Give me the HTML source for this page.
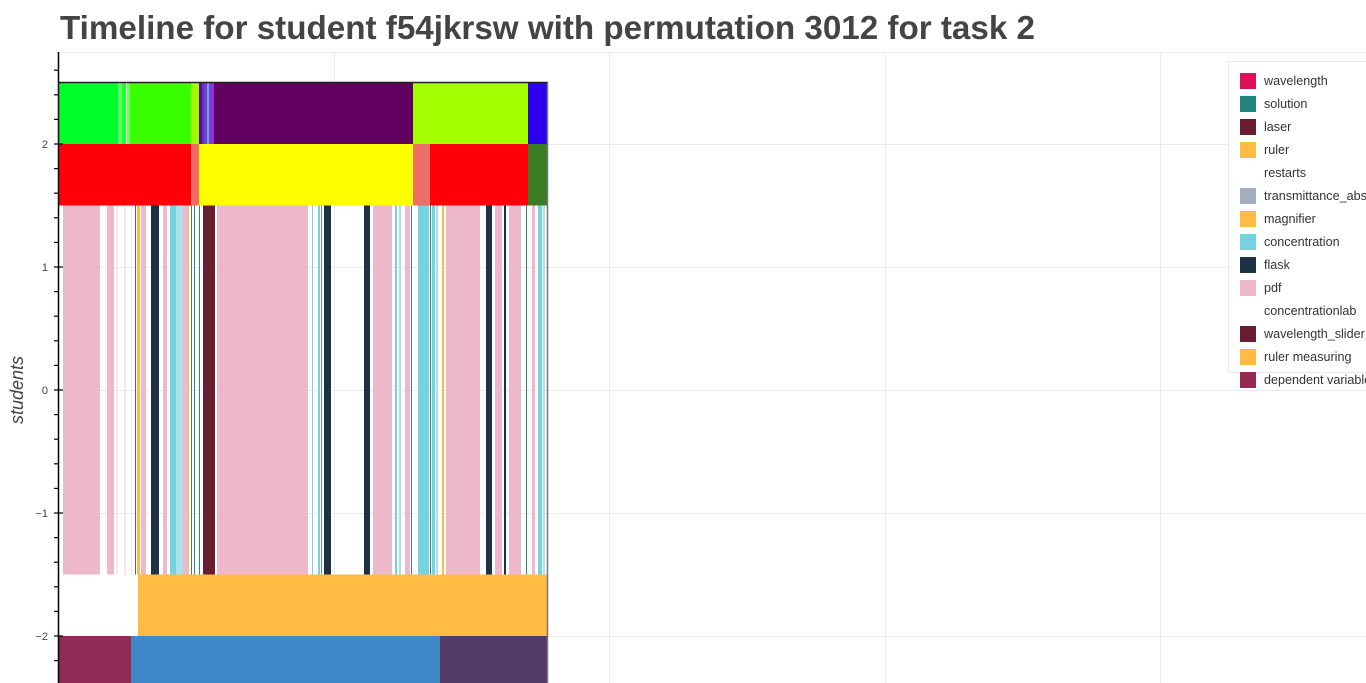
<!DOCTYPE html>
<html><head><meta charset="utf-8">
<style>
body{margin:0;background:#fff;font-family:"Liberation Sans",sans-serif;}
#wrap{position:relative;width:1366px;height:683px;overflow:hidden;}
</style></head>
<body>
<div id="wrap">
<svg id="chart" width="1366" height="683">
<text x="60" y="39" font-size="33.2" font-weight="bold" fill="#444">Timeline for student f54jkrsw with permutation 3012 for task 2</text>
<text transform="translate(23,390) rotate(-90)" text-anchor="middle" font-size="18" font-style="italic" fill="#444">students</text>
<g id="grid"></g>
<g id="marks"></g>
<g id="axis"></g>
<g id="legend"></g>
</svg>
</div>
<script>
const topSegs=[[0,60,"#00ff2a"],[60,64,"#5dff6a"],[64,68,"#20ff30"],[69,72,"#6aff5a"],[72,133,"#3aff00"],[133,141,"#a0ff00"],[141,144,"#6a00c0"],[144,146,"#4a4a90"],[146,149,"#8a30e0"],[149,151,"#40c0d0"],[151,156,"#9030e0"],[156,355,"#620060"],[355,470,"#a4ff00"],[470,489,"#2e00f0"]];
const secondSegs=[[0,133,"#ff0008"],[133,141,"#ee6a66"],[141,355,"#ffff00"],[355,372,"#ec7069"],[372,470,"#ff0008"],[470,489,"#3a7d22"]];
const midSegs=[[5,42,"#eeb8cb"],[49,56,"#eeb8cb"],[58,60,"#fbe6ee"],[66,68,"#fbe6ee"],[73,74,"#fbe6ee"],[77,78,"#556070"],[79,82,"#ffbb44"],[83,88,"#eeb8cb"],[93,101,"#1e3246"],[105,109,"#eeb8cb"],[112,118,"#75d2df"],[118,125,"#a8e2ea"],[125,130,"#eeb8cb"],[130,131,"#ffbb44"],[133,134,"#2a8a80"],[136,137,"#2a8a80"],[141,142,"#2a8a80"],[145,157,"#6a1c30"],[159,250,"#eeb8cb"],[254,255,"#75d2df"],[260,262,"#75d2df"],[263,264,"#888"],[266,273,"#1e3246"],[306,312,"#1e3246"],[315,334,"#eeb8cb"],[337,339,"#75d2df"],[341,343,"#a8e2ea"],[347,352,"#eeb8cb"],[353,354,"#2a8a80"],[360,371,"#75d2df"],[372,373,"#2a8a80"],[374,377,"#75d2df"],[378,380,"#a8e2ea"],[384,386,"#ffbb44"],[388,422,"#eeb8cb"],[428,434,"#1e3246"],[437,444,"#eeb8cb"],[446,448,"#1e3246"],[451,463,"#eeb8cb"],[468,469,"#2a8a80"],[474,477,"#eeb8cb"],[480,484,"#75d2df"],[485,487,"#a8e2ea"]];
const rulerSegs=[[80,489,"#ffbb44"]];
const bottomSegs=[[0,73,"#8e2c55"],[73,382,"#4088c8"],[382,489,"#523b66"]];
const bands=[[2.5,2,topSegs],[2,1.5,secondSegs],[1.5,-1.5,midSegs],[-1.5,-2,rulerSegs],[-2,-2.5,bottomSegs]];
const yTicks=[2,1,0,-1,-2];
const yTickLabels=["2","1","0","\u22121","\u22122"];
const legendNames=["wavelength","solution","laser","ruler","restarts","transmittance_absorbance","magnifier","concentration","flask","pdf","concentrationlab","wavelength_slider","ruler measuring","dependent variable"];
const legendColors=["#dc1158","#20847c","#6a1c30","#ffbb44",null,"#a2aebb","#ffbb44","#75d2df","#1e3246","#eeb8cb",null,"#6a1c30","#ffbb44","#962a52"];

const NS="http://www.w3.org/2000/svg";
const X0=58, Y2=144, PX=123;
const xs=t=>X0+t;
const ys=v=>Y2+(2-v)*PX;
function mk(tag,attrs,parent){const e=document.createElementNS(NS,tag);for(const k in attrs)e.setAttribute(k,attrs[k]);parent.appendChild(e);return e;}
const grid=document.getElementById('grid'),marks=document.getElementById('marks'),axis=document.getElementById('axis'),leg=document.getElementById('legend');
[334,609,885,1160].forEach(x=>{const l=mk('line',{x1:x+0.5,x2:x+0.5,y1:52,y2:683,stroke:'#ebebeb','stroke-width':1},grid);

});
yTicks.forEach(v=>{const l=mk('line',{x1:58,x2:1366,y1:ys(v)+0.5,y2:ys(v)+0.5,stroke:'#ebebeb','stroke-width':1},grid);

});
mk('line',{x1:58,x2:1366,y1:52.5,y2:52.5,stroke:'#ebebeb'},grid);
bands.forEach(b=>{b[2].forEach(s=>{const r=mk('rect',{x:xs(s[0]),y:ys(b[0]),width:s[1]-s[0],height:ys(b[1])-ys(b[0]),fill:s[2]},marks);

});});
mk('line',{x1:58,x2:548,y1:ys(2.5),y2:ys(2.5),stroke:'#222','stroke-width':1.5},marks);
mk('line',{x1:547.5,x2:547.5,y1:ys(2.5),y2:683,stroke:'#777','stroke-width':1.5},marks);
mk('line',{x1:58.5,x2:58.5,y1:52,y2:683,stroke:'#000','stroke-width':1.5},axis);
for(let i=-12;i<=13;i++){const v=i*0.2;const y=ys(v);if(y<52||y>683)continue;
const major=Math.abs(v-Math.round(v))<1e-6;
mk('line',{x1:54,x2:major?63:58,y1:y,y2:y,stroke:'#000','stroke-width':1.2},axis);}
yTicks.forEach((v,i)=>{const t=mk('text',{x:48,y:ys(v)+4,'text-anchor':'end','font-size':11,fill:'#444'},axis);t.textContent=yTickLabels[i];

});
const box=mk('rect',{x:1228.5,y:61.5,width:150,height:311,fill:'#fff',stroke:'#e8e8e8'},leg);


legendNames.forEach((n,i)=>{const y=80+i*23;
if(legendColors[i]){const r=mk('rect',{x:1240,y:y-7,width:16,height:16,fill:legendColors[i]},leg);

}
const t=mk('text',{x:1264,y:y+5,'font-size':12.6,fill:'#333'},leg);t.textContent=n;

});
</script>
</body></html>
